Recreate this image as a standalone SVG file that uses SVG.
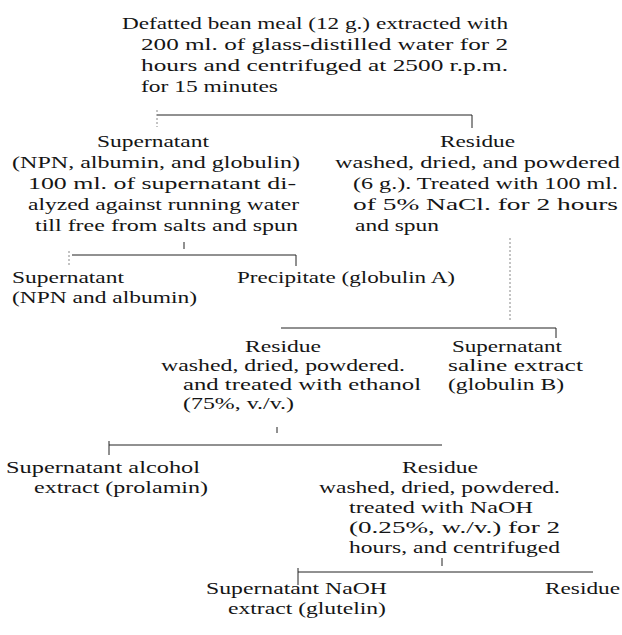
<svg xmlns="http://www.w3.org/2000/svg" width="622" height="635" viewBox="0 0 622 635">
<style>
text{font-family:"Liberation Serif","Times New Roman",serif;font-size:17.5px;fill:#151515}
.c path{stroke:#222;stroke-width:1;fill:none}
.c .f{stroke:#888;stroke-dasharray:2 2}
</style>
<rect width="622" height="635" fill="#fff"/>
<g id="n1">
<text x="122" y="29" textLength="386" lengthAdjust="spacingAndGlyphs">Defatted bean meal (12 g.) extracted with</text>
<text x="141" y="50" textLength="367" lengthAdjust="spacingAndGlyphs">200 ml. of glass-distilled water for 2</text>
<text x="141" y="71" textLength="367" lengthAdjust="spacingAndGlyphs">hours and centrifuged at 2500 r.p.m.</text>
<text x="141" y="92" textLength="137" lengthAdjust="spacingAndGlyphs">for 15 minutes</text>
</g>
<g id="n2">
<text x="97" y="147" textLength="112" lengthAdjust="spacingAndGlyphs">Supernatant</text>
<text x="12" y="168" textLength="288" lengthAdjust="spacingAndGlyphs">(NPN, albumin, and globulin)</text>
<text x="28" y="189" textLength="268" lengthAdjust="spacingAndGlyphs">100 ml. of supernatant di-</text>
<text x="28" y="210" textLength="271" lengthAdjust="spacingAndGlyphs">alyzed against running water</text>
<text x="35" y="231" textLength="263" lengthAdjust="spacingAndGlyphs">till free from salts and spun</text>
</g>
<g id="n3">
<text x="440" y="147" textLength="75" lengthAdjust="spacingAndGlyphs">Residue</text>
<text x="335" y="168" textLength="285" lengthAdjust="spacingAndGlyphs">washed, dried, and powdered</text>
<text x="353" y="189" textLength="265" lengthAdjust="spacingAndGlyphs">(6 g.). Treated with 100 ml.</text>
<text x="353" y="210" textLength="265" lengthAdjust="spacingAndGlyphs">of 5% NaCl. for 2 hours</text>
<text x="355" y="231" textLength="84" lengthAdjust="spacingAndGlyphs">and spun</text>
</g>
<g id="n4">
<text x="12" y="283" textLength="112" lengthAdjust="spacingAndGlyphs">Supernatant</text>
<text x="12" y="303" textLength="185" lengthAdjust="spacingAndGlyphs">(NPN and albumin)</text>
</g>
<g id="n5">
<text x="237" y="283" textLength="218" lengthAdjust="spacingAndGlyphs">Precipitate (globulin A)</text>
</g>
<g id="n6">
<text x="245" y="352" textLength="76" lengthAdjust="spacingAndGlyphs">Residue</text>
<text x="161" y="371" textLength="244" lengthAdjust="spacingAndGlyphs">washed, dried, powdered.</text>
<text x="183" y="390" textLength="238" lengthAdjust="spacingAndGlyphs">and treated with ethanol</text>
<text x="183" y="409" textLength="111" lengthAdjust="spacingAndGlyphs">(75%, v./v.)</text>
</g>
<g id="n7">
<text x="452" y="352" textLength="110" lengthAdjust="spacingAndGlyphs">Supernatant</text>
<text x="448" y="371" textLength="135" lengthAdjust="spacingAndGlyphs">saline extract</text>
<text x="448" y="390" textLength="116" lengthAdjust="spacingAndGlyphs">(globulin B)</text>
</g>
<g id="n8">
<text x="6" y="473" textLength="194" lengthAdjust="spacingAndGlyphs">Supernatant alcohol</text>
<text x="34" y="493" textLength="174" lengthAdjust="spacingAndGlyphs">extract (prolamin)</text>
</g>
<g id="n9">
<text x="402" y="473" textLength="76" lengthAdjust="spacingAndGlyphs">Residue</text>
<text x="319" y="493" textLength="241" lengthAdjust="spacingAndGlyphs">washed, dried, powdered.</text>
<text x="349" y="513" textLength="184" lengthAdjust="spacingAndGlyphs">treated with NaOH</text>
<text x="349" y="533" textLength="211" lengthAdjust="spacingAndGlyphs">(0.25%, w./v.) for 2</text>
<text x="349" y="553" textLength="211" lengthAdjust="spacingAndGlyphs">hours, and centrifuged</text>
</g>
<g id="n10">
<text x="206" y="594" textLength="181" lengthAdjust="spacingAndGlyphs">Supernatant NaOH</text>
<text x="228" y="614" textLength="158" lengthAdjust="spacingAndGlyphs">extract (glutelin)</text>
</g>
<g id="n11">
<text x="545" y="594" textLength="75" lengthAdjust="spacingAndGlyphs">Residue</text>
</g>
<g id="connectors" class="c">
<path d="M157 115H472"/>
<path class="f" d="M157 110V127"/>
<path d="M472 115V128"/>
<path d="M184 242V249"/>
<path d="M72 255H296"/>
<path class="f" d="M69 251V266"/>
<path d="M296 255V266"/>
<path class="f" d="M510 238V322"/>
<path d="M281 328H556"/>
<path d="M556 328V338"/>
<path d="M277 427V433"/>
<path d="M109 445H442"/>
<path d="M109 441V455"/>
<path d="M442 558V566"/>
<path d="M298 572H593"/>
<path d="M298 568V585"/>
</g>
</svg>
